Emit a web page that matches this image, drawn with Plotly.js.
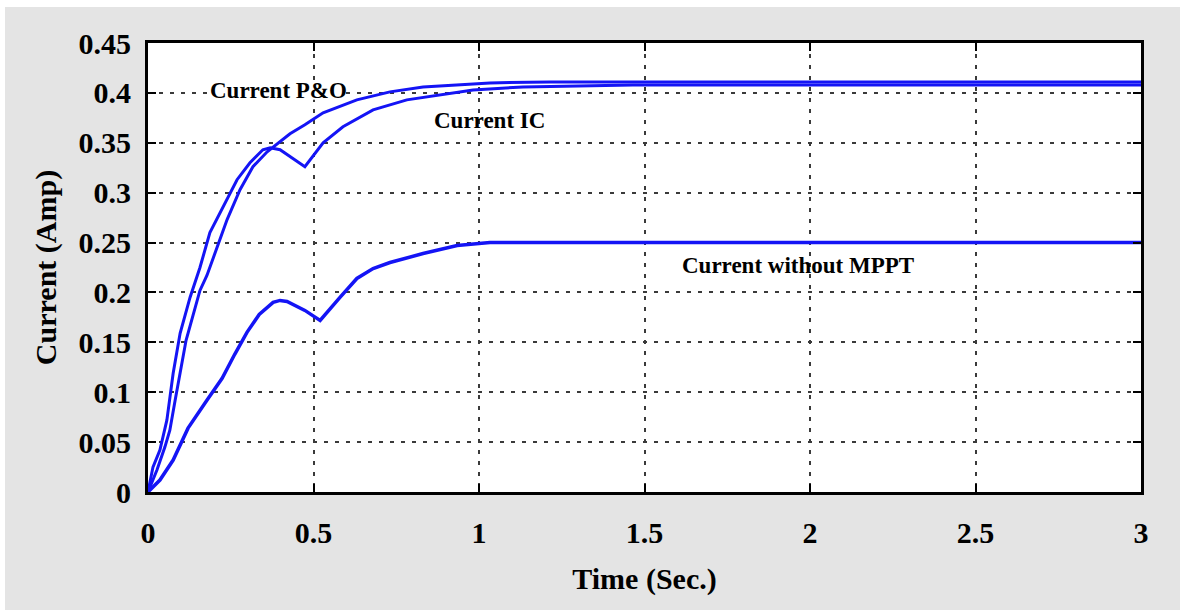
<!DOCTYPE html>
<html>
<head>
<meta charset="utf-8">
<script src="https://cdn.plot.ly/plotly-3.0.1.min.js"></script>
<style>
  html, body { margin: 0; padding: 0; background: #ffffff; }
  #chart { position: absolute; left: 5px; top: 7px; width: 1175px; height: 603px; }
</style>
</head>
<body>
<div id="chart"></div>
<script>
// Current response of the PV system (time in seconds, current in amperes)
const timePO = [0, 0.027, 0.051, 0.066, 0.082, 0.100, 0.115, 0.136, 0.157, 0.178, 0.208, 0.239, 0.278, 0.317, 0.360, 0.384, 0.429, 0.474, 0.529, 0.631, 0.731, 0.831, 1.033, 1.215, 1.5, 2.0, 2.5, 3.0];
const currentPO = [0, 0.022, 0.045, 0.062, 0.092, 0.125, 0.152, 0.177, 0.202, 0.217, 0.245, 0.273, 0.303, 0.326, 0.341, 0.347, 0.359, 0.368, 0.380, 0.393, 0.401, 0.406, 0.410, 0.411, 0.411, 0.411, 0.411, 0.411];

const timeIC = [0, 0.015, 0.036, 0.057, 0.076, 0.097, 0.127, 0.157, 0.187, 0.227, 0.269, 0.308, 0.347, 0.369, 0.399, 0.474, 0.529, 0.589, 0.680, 0.782, 0.882, 0.982, 1.133, 1.465, 2.0, 2.5, 3.0];
const currentIC = [0, 0.025, 0.042, 0.072, 0.119, 0.159, 0.195, 0.225, 0.260, 0.286, 0.313, 0.330, 0.343, 0.345, 0.343, 0.326, 0.350, 0.366, 0.383, 0.393, 0.398, 0.403, 0.406, 0.408, 0.408, 0.408, 0.408];

const timeNoMPPT = [0, 0.036, 0.076, 0.121, 0.178, 0.224, 0.262, 0.299, 0.336, 0.378, 0.399, 0.420, 0.474, 0.520, 0.580, 0.631, 0.680, 0.731, 0.831, 0.934, 1.033, 1.5, 2.0, 2.5, 3.0];
const currentNoMPPT = [0, 0.012, 0.032, 0.064, 0.092, 0.114, 0.138, 0.160, 0.178, 0.190, 0.192, 0.191, 0.182, 0.172, 0.195, 0.214, 0.224, 0.230, 0.239, 0.247, 0.250, 0.250, 0.250, 0.250, 0.250];

const xTicks = [0, 0.5, 1, 1.5, 2, 2.5, 3];
const yTicks = [0, 0.05, 0.1, 0.15, 0.2, 0.25, 0.3, 0.35, 0.4, 0.45];

const curveLabels = ['Current P&O', 'Current IC', 'Current without MPPT'];
const labelTime = [0.393, 1.033, 1.964];
const labelCurrent = [0.402, 0.372, 0.2275];

const serif = 'Liberation Serif, Times New Roman, serif';
const blue = '#1414f5';

const traces = [
  { x: timeNoMPPT, y: currentNoMPPT, name: curveLabels[2], mode: 'lines',
    line: { color: blue, width: 3.5 } },
  { x: timeIC, y: currentIC, name: curveLabels[1], mode: 'lines',
    line: { color: blue, width: 3 } },
  { x: timePO, y: currentPO, name: curveLabels[0], mode: 'lines',
    line: { color: blue, width: 3 } }
];

const axisCommon = {
  showline: true, linecolor: '#000', linewidth: 3, mirror: 'ticks',
  ticks: 'inside', ticklen: 8, tickwidth: 2, tickcolor: '#000',
  showgrid: true, gridcolor: '#3a3a3a', gridwidth: 2, griddash: '4px,7px',
  zeroline: false,
  tickfont: { family: serif, size: 30, color: '#000', weight: 700 }
};

const layout = {
  width: 1175, height: 603,
  margin: { l: 143, r: 39, t: 36, b: 118 },
  paper_bgcolor: '#e4e4e4',
  plot_bgcolor: '#ffffff',
  showlegend: false,
  xaxis: Object.assign({}, axisCommon, {
    range: [0, 3], tickvals: xTicks, ticklabelstandoff: 12,
    title: { text: 'Time (Sec.)', standoff: 20,
      font: { family: serif, size: 30, color: '#000', weight: 700 } }
  }),
  yaxis: Object.assign({}, axisCommon, {
    range: [0, 0.45], tickvals: yTicks, ticklabelstandoff: 8,
    title: { text: 'Current (Amp)', standoff: 14,
      font: { family: serif, size: 30, color: '#000', weight: 700 } }
  }),
  // white backing under the first label so the grid does not run through its text
  shapes: [{
    type: 'rect', layer: 'between', xref: 'x', yref: 'y',
    x0: labelTime[0] - 0.2, x1: labelTime[0] + 0.2,
    y0: labelCurrent[0] - 0.009, y1: labelCurrent[0] + 0.009,
    fillcolor: '#ffffff', line: { width: 0 }
  }],
  annotations: curveLabels.map((txt, k) => ({
    x: labelTime[k], y: labelCurrent[k], xref: 'x', yref: 'y',
    text: txt, showarrow: false,
    font: { family: serif, size: 23, color: '#000', weight: 700 }
  }))
};

Plotly.newPlot('chart', traces, layout, { displayModeBar: false, staticPlot: true });
</script>
</body>
</html>
